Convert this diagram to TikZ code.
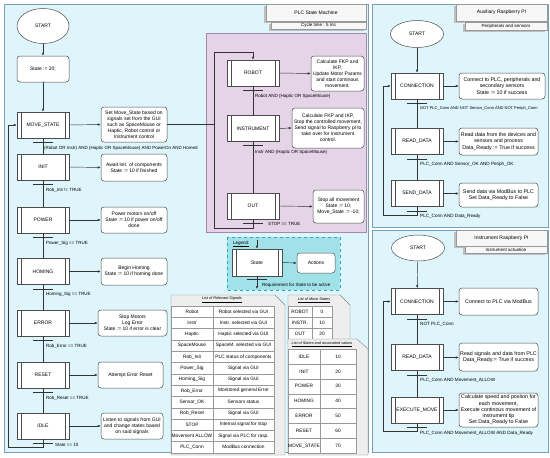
\documentclass[tikz,border=0pt]{standalone}
\usepackage{fontspec}
\setmainfont{Liberation Sans}
\usetikzlibrary{shapes.geometric,arrows.meta}
\definecolor{panel}{RGB}{222,246,251}
\definecolor{panelb}{RGB}{120,160,185}
\definecolor{purp}{RGB}{229,211,231}
\definecolor{purpb}{RGB}{165,135,170}
\definecolor{leg}{RGB}{160,226,232}
\definecolor{legb}{RGB}{45,170,185}
\definecolor{card}{RGB}{238,238,238}
\definecolor{cardb}{RGB}{130,130,130}
\begin{document}
\begin{tikzpicture}[x=1pt,y=-1pt,font=\fontsize{5}{6}\selectfont]
\tikzset{
 st/.style={draw=black!70, fill=white, line width=0.5pt, minimum width=52pt, minimum height=26pt, inner sep=0pt,
   path picture={\draw[black!70,line width=0.5pt] ([xshift=4pt]path picture bounding box.north west) -- ([xshift=4pt]path picture bounding box.south west) ([xshift=-4pt]path picture bounding box.north east) -- ([xshift=-4pt]path picture bounding box.south east);}},
 act/.style={draw=black!70, fill=white, line width=0.5pt, rounded corners=3pt, align=center, inner sep=0.5pt},
 ract/.style={act, font=\fontsize{5.3}{6.3}\selectfont},
 startnode/.style={draw=black!70, fill=white, line width=0.5pt, ellipse, inner sep=0pt},
 arr/.style={-{Latex[length=3pt,width=2.4pt]}, line width=0.45pt, black!80},
 ln/.style={line width=0.45pt, black!80},
 bar/.style={line width=0.9pt, black!80},
 lbl/.style={anchor=west, font=\fontsize{4.5}{5}\selectfont, inner sep=0pt},
 rlbl/.style={lbl, font=\fontsize{4.6}{5.5}\selectfont},
 ttl/.style={draw=black!40, fill=black!3, line width=0.4pt, inner sep=0pt, font=\fontsize{5}{6}\selectfont},
 cell/.style={draw=black!40, fill=white, line width=0.4pt, inner sep=0pt, font=\fontsize{4.8}{5}\selectfont},
 cardst/.style={draw=cardb, fill=card, line width=0.4pt},
 cardt/.style={font=\fontsize{3.8}{4}\selectfont\itshape, inner sep=0pt},
}
\useasboundingbox (0,0) rectangle (550,458);
\fill[white] (0,0) rectangle (550,458);

% ---------- panels ----------
\draw[panelb, fill=panel, line width=0.6pt] (4,4) rectangle (368,452);
\draw[panelb, fill=panel, line width=0.6pt] (372,4) rectangle (548,227);
\draw[panelb, fill=panel, line width=0.6pt] (372,230) rectangle (548,452);
\draw[purpb, fill=purp, line width=0.5pt] (206,33) rectangle (366,232);

% ---------- titles ----------
\fill[black!25] (264,6) rectangle (364,23);
\node[ttl, minimum width=100pt, minimum height=17pt] (t1) at (316,12.5) {PLC State Machine};
\fill[black!25] (269,24) rectangle (364,31);
\node[ttl, minimum width=95pt, minimum height=7pt, font=\fontsize{4.5}{5}\selectfont] (t1b) at (318.5,25.5) {Cycle time : 5 ms};
\fill[black!25] (454,6) rectangle (545,23);
\node[ttl, minimum width=91pt, minimum height=17pt] (t2) at (501.5,12.5) {Auxiliary Raspberry PI};
\fill[black!25] (463,24) rectangle (545,32);
\node[ttl, minimum width=82pt, minimum height=8pt, font=\fontsize{4.5}{5}\selectfont] (t2b) at (506,26) {Peripherals and sensors};
\fill[black!25] (454,232) rectangle (545,248);
\node[ttl, minimum width=91pt, minimum height=16pt] (t3) at (501.5,238) {Instrument Raspberry PI};
\fill[black!25] (463,248) rectangle (545,255);
\node[ttl, minimum width=82pt, minimum height=7pt, font=\fontsize{4.5}{5}\selectfont] (t3b) at (506,249.5) {Instrument actuation};

% ---------- PLC state machine ----------
\node[startnode, minimum width=52pt, minimum height=35pt] (start1) at (43,26) {START};
\node[act, minimum width=52pt, minimum height=26pt] (s20) at (43,69) {State := 20;};
\node[st] (ms) at (43,125) {MOVE\_STATE};
\node[st] (init) at (43,167) {INIT};
\node[st] (power) at (43,220) {POWER};
\node[st] (homing) at (43,271.5) {HOMING};
\node[st] (error) at (43,323) {ERROR};
\node[st] (reset) at (43,375) {RESET};
\node[st] (idle) at (43,426) {IDLE};

\node[act, minimum width=66pt, minimum height=35pt] (a0) at (134,124.5) {Set Move\_State based on\\signals set from the GUI\\such as SpaceMouse or\\Haptic, Robot control or\\Instrument control};
\node[act, minimum width=66pt, minimum height=27pt] (a1) at (134,167.5) {Await init. of components\\State := 10 if finished};
\node[act, minimum width=66pt, minimum height=26pt] (a2) at (134,220) {Power motors on/off\\State := 10 if power on/off\\done};
\node[act, minimum width=66pt, minimum height=27pt] (a3) at (134,271.5) {Begin Homing\\State := 10 if homing done};
\node[act, minimum width=69pt, minimum height=26pt] (a4) at (132.5,323) {Stop Motors\\Log Error\\State := 10 if error is clear};
\node[act, minimum width=65pt, minimum height=26pt] (a5) at (130.5,375) {Attempt Error Reset};
\node[act, minimum width=62pt, minimum height=26pt] (a6) at (132,426) {Listen to signals from GUI\\and change states based\\on said signals};

\draw[arr] (start1) -- (s20);
\draw[arr] (s20) -- (ms);
\draw[ln] (ms) -- (init);
\draw[ln] (init) -- (power);
\draw[ln] (power) -- (homing);
\draw[ln] (homing) -- (error);
\draw[ln] (error) -- (reset);
\draw[ln] (reset) -- (idle);
\foreach \s/\a in {ms/a0,init/a1,power/a2,homing/a3,error/a4,reset/a5,idle/a6}{
  \draw[arr] (\s.east) -- (\a.west);
}
\foreach \s in {ms,init,power,homing,error,reset,idle}{
  \draw[bar] ([xshift=-10pt,yshift=-4.5pt]\s.south) -- ([xshift=10pt,yshift=-4.5pt]\s.south);
}
\node[lbl] (lms) at ([xshift=1pt,yshift=-10pt]ms.south) {(Robot OR Instr) AND (Haptic OR SpaceMouse) AND PowerOn AND Homed};
\node[lbl] (linit) at ([xshift=3pt,yshift=-10pt]init.south) {Rob\_Init != TRUE};
\node[lbl] (lpow) at ([xshift=3pt,yshift=-10pt]power.south) {Power\_Sig == TRUE};
\node[lbl] (lhom) at ([xshift=3pt,yshift=-10pt]homing.south) {Homing\_Sig == TRUE};
\node[lbl] (lerr) at ([xshift=3pt,yshift=-10pt]error.south) {Rob\_Error == TRUE};
\node[lbl] (lres) at ([xshift=3pt,yshift=-10pt]reset.south) {Rob\_Reset == TRUE};
\node[lbl] (lidle) at ([xshift=12pt,yshift=-6pt]idle.south) {State == 10};
\coordinate (lb) at (8,447);
\draw[arr] (idle.south) |- (lb) |- (ms.west);

% ---------- Move state sub machine ----------
\node[st] (robot) at (253,73) {ROBOT};
\node[st] (instr) at (253,128.5) {INSTRUMENT};
\node[st] (out) at (253,206) {OUT};
\node[act, minimum width=53pt, minimum height=35pt] (ar) at (337.5,73.5) {Calculate FKP and\\IKP,\\Update Motor Params\\and start continous\\movement.};
\node[act, minimum width=72pt, minimum height=40pt] (ai) at (328,128) {Calculate FKP and IKP,\\Stop the controlled movement,\\Send signal to Raspberry pi to\\take over for instrument\\control.};
\node[act, minimum width=51pt, minimum height=33pt] (ao) at (338.5,206.5) {Stop all movement\\State := 10;\\Move\_State := -10;};
\draw[ln] (robot) -- (instr);
\draw[ln] (instr) -- (out);
\draw[arr] (robot.east) -- (ar.west);
\draw[arr] (instr.east) -- (ai.west);
\draw[arr] (out.east) -- (ao.west);
\foreach \s in {robot,instr,out}{
  \draw[bar] ([xshift=-10pt,yshift=-4pt]\s.south) -- ([xshift=10pt,yshift=-4pt]\s.south);
}
\node[lbl] (lrob) at ([xshift=2pt,yshift=-10.5pt]robot.south) {Robot AND (Haptic OR SpaceMouse)};
\node[lbl] (lins) at ([xshift=2pt,yshift=-11pt]instr.south) {Instr AND (Haptic OR SpaceMouse)};
\node[lbl] (lout) at ([xshift=15pt,yshift=-4.5pt]out.south) {STOP == TRUE};
\coordinate (pl) at (214,228);
\coordinate (pt) at (214,52);
\draw[arr] (out.south) |- (pl) -- (pt) -| (robot.north);
\draw[ln] (a0.east) -- (pl |- a0.east);

% ---------- Legend ----------
\draw[legb, fill=leg, dashed, line width=0.5pt] (227,237) rectangle (340,290);
\node[lbl, font=\fontsize{4.5}{5}\selectfont] (legt) at (233,244) {\underline{Legend:}};
\node[st, minimum width=50pt, minimum height=27pt] (legst) at (257,262.5) {State};
\node[act, minimum width=38pt, minimum height=20pt] (legact) at (316,263) {Actions};
\coordinate (legin) at (257,240);
\coordinate (legout) at (257,289);
\draw[arr] (legin) -- (legst.north);
\draw[arr] (legst.east) -- (legact.west);
\draw[bar] ([xshift=-10pt,yshift=-3.5pt]legst.south) -- ([xshift=10pt,yshift=-3.5pt]legst.south);
\draw[arr] (legst.south) -- (legout);
\node[lbl] (legreq) at (262,285) {Requirement for State to be active};

% ---------- Tables ----------
\draw[cardst] (171,295) -- (275,295) -- (285,305) -- (285,455) -- (171,455) -- cycle;
\node[cardt] (c1t) at (222,300) {\underline{List of Relevant Signals}};
\foreach \a/\b [count=\i from 0] in {Robot/Robot selected via GUI, Instr/Instr. selected via GUI, Haptic/Haptic selected via GUI, SpaceMouse/SpaceM. selected via GUI, Rob\_Init/PLC status of components, Power\_Sig/Signal via GUI, Homing\_Sig/Signal via GUI, Rob\_Error/Monitored general Error, Sensor\_OK/Sensors status, Rob\_Reset/Signal via GUI, STOP/Internal signal for stop, Movement ALLOW/Signal via PLC for rasp., PLC\_Conn/ModBus connection}{
  \node[cell, minimum width=42pt, minimum height=11.3pt] (sa\i) at (192,{311.65+\i*11.3}) {\a};
  \node[cell, minimum width=61pt, minimum height=11.3pt] (sb\i) at (243.5,{311.65+\i*11.3}) {\b};
}
\draw[cardst] (288,295) -- (340,295) -- (350,305) -- (350,345) -- (288,345) -- cycle;
\node[cardt] (c2t) at (314,300) {\underline{List of Move States}};
\foreach \a/\b [count=\i from 0] in {ROBOT/0, INSTR./10, OUT/20}{
  \node[cell, minimum width=24pt, minimum height=11pt] (ma\i) at (300,{311.5+\i*11}) {\a};
  \node[cell, minimum width=20pt, minimum height=11pt] (mb\i) at (322,{311.5+\i*11}) {\b};
}
\draw[cardst] (288,339) -- (357,339) -- (368,349) -- (368,455) -- (288,455) -- cycle;
\node[cardt] (c3t) at (322,344) {\underline{List of States and associated values}};
\foreach \a/\b [count=\i from 0] in {IDLE/10, INIT/20, POWER/30, HOMING/40, ERROR/50, RESET/60, MOVE\_STATE/70}{
  \node[cell, minimum width=32pt, minimum height=14.9pt] (va\i) at (304,{356.45+\i*14.9}) {\a};
  \node[cell, minimum width=36pt, minimum height=14.9pt] (vb\i) at (338,{356.45+\i*14.9}) {\b};
}

% ---------- Auxiliary Raspberry PI ----------
\node[startnode, minimum width=53pt, minimum height=27pt] (start2) at (417,34) {START};
\node[st] (con1) at (417,86) {CONNECTION};
\node[st] (rd1) at (417,141.5) {READ\_DATA};
\node[st] (sd1) at (417,193.5) {SEND\_DATA};
\node[ract, minimum width=86pt, minimum height=26pt] (acon1) at (502,86) {Connect to PLC, peripherals and\\secondary sensors\\State := 10 if success};
\node[ract, minimum width=79pt, minimum height=27pt] (ard1) at (498.5,141.5) {Read data from the devices and\\sensors and process\\Data\_Ready := True if success};
\node[ract, minimum width=79pt, minimum height=24pt] (asd1) at (498.5,195) {Send data via ModBus to PLC\\Set Data\_Ready to False};
\draw[arr] (start2) -- (con1);
\draw[ln] (con1) -- (rd1);
\draw[ln] (rd1) -- (sd1);
\draw[arr] (con1.east) -- (acon1.west);
\draw[arr] (rd1.east) -- (ard1.west);
\draw[arr] (sd1.east) -- (sd1.east -| asd1.west);
\foreach \s in {con1,rd1,sd1}{
  \draw[bar] ([xshift=-10pt,yshift=-4.5pt]\s.south) -- ([xshift=10pt,yshift=-4.5pt]\s.south);
}
\node[rlbl, font=\fontsize{4}{5}\selectfont] (lc1) at ([xshift=3pt,yshift=-9.5pt]con1.south) {NOT PLC\_Conn AND NOT Sensor\_Conn AND NOT Periph\_Conn};
\node[rlbl] (lr1) at ([xshift=3pt,yshift=-9.5pt]rd1.south) {PLC\_Conn AND Sensor\_OK AND Periph\_OK};
\node[rlbl] (ls1) at ([xshift=3pt,yshift=-10pt]sd1.south) {PLC\_Conn AND Data\_Ready};
\coordinate (al) at (383,215);
\draw[arr] (sd1.south) |- (al) |- (con1.west);

% ---------- Instrument Raspberry PI ----------
\node[startnode, minimum width=53pt, minimum height=26pt] (start3) at (418,248) {START};
\node[st] (con2) at (417,301.5) {CONNECTION};
\node[st] (rd2) at (417,357.5) {READ\_DATA};
\node[st] (ex2) at (417,410) {EXECUTE\_MOVE};
\node[ract, minimum width=79pt, minimum height=27pt] (acon2) at (498.5,301.5) {Connect to PLC via ModBus};
\node[ract, minimum width=79pt, minimum height=28pt] (ard2) at (498.5,357) {Read signals and data from PLC\\Data\_Ready:= True if success};
\node[ract, minimum width=79pt, minimum height=34pt] (aex2) at (498.5,410) {Calculate speed and positon for\\each movement,\\Execute continous movement of\\instrument tip\\Set Data\_Ready to False};
\draw[arr] (start3) -- (con2);
\draw[ln] (con2) -- (rd2);
\draw[ln] (rd2) -- (ex2);
\draw[arr] (con2.east) -- (acon2.west);
\draw[arr] (rd2.east) -- (rd2.east -| ard2.west);
\draw[arr] (ex2.east) -- (aex2.west);
\foreach \s in {con2,rd2,ex2}{
  \draw[bar] ([xshift=-10pt,yshift=-4.5pt]\s.south) -- ([xshift=10pt,yshift=-4.5pt]\s.south);
}
\node[rlbl] (lc2) at ([xshift=3pt,yshift=-9.5pt]con2.south) {NOT PLC\_Conn};
\node[rlbl] (lr2) at ([xshift=3pt,yshift=-9.5pt]rd2.south) {PLC\_Conn AND Movement\_ALLOW};
\node[rlbl] (lx2) at ([xshift=3pt,yshift=-10pt]ex2.south) {PLC\_Conn AND Movement\_ALLOW AND Data\_Ready};
\coordinate (il) at (383,431);
\draw[arr] (ex2.south) |- (il) |- (con2.west);
\end{tikzpicture}
\end{document}
